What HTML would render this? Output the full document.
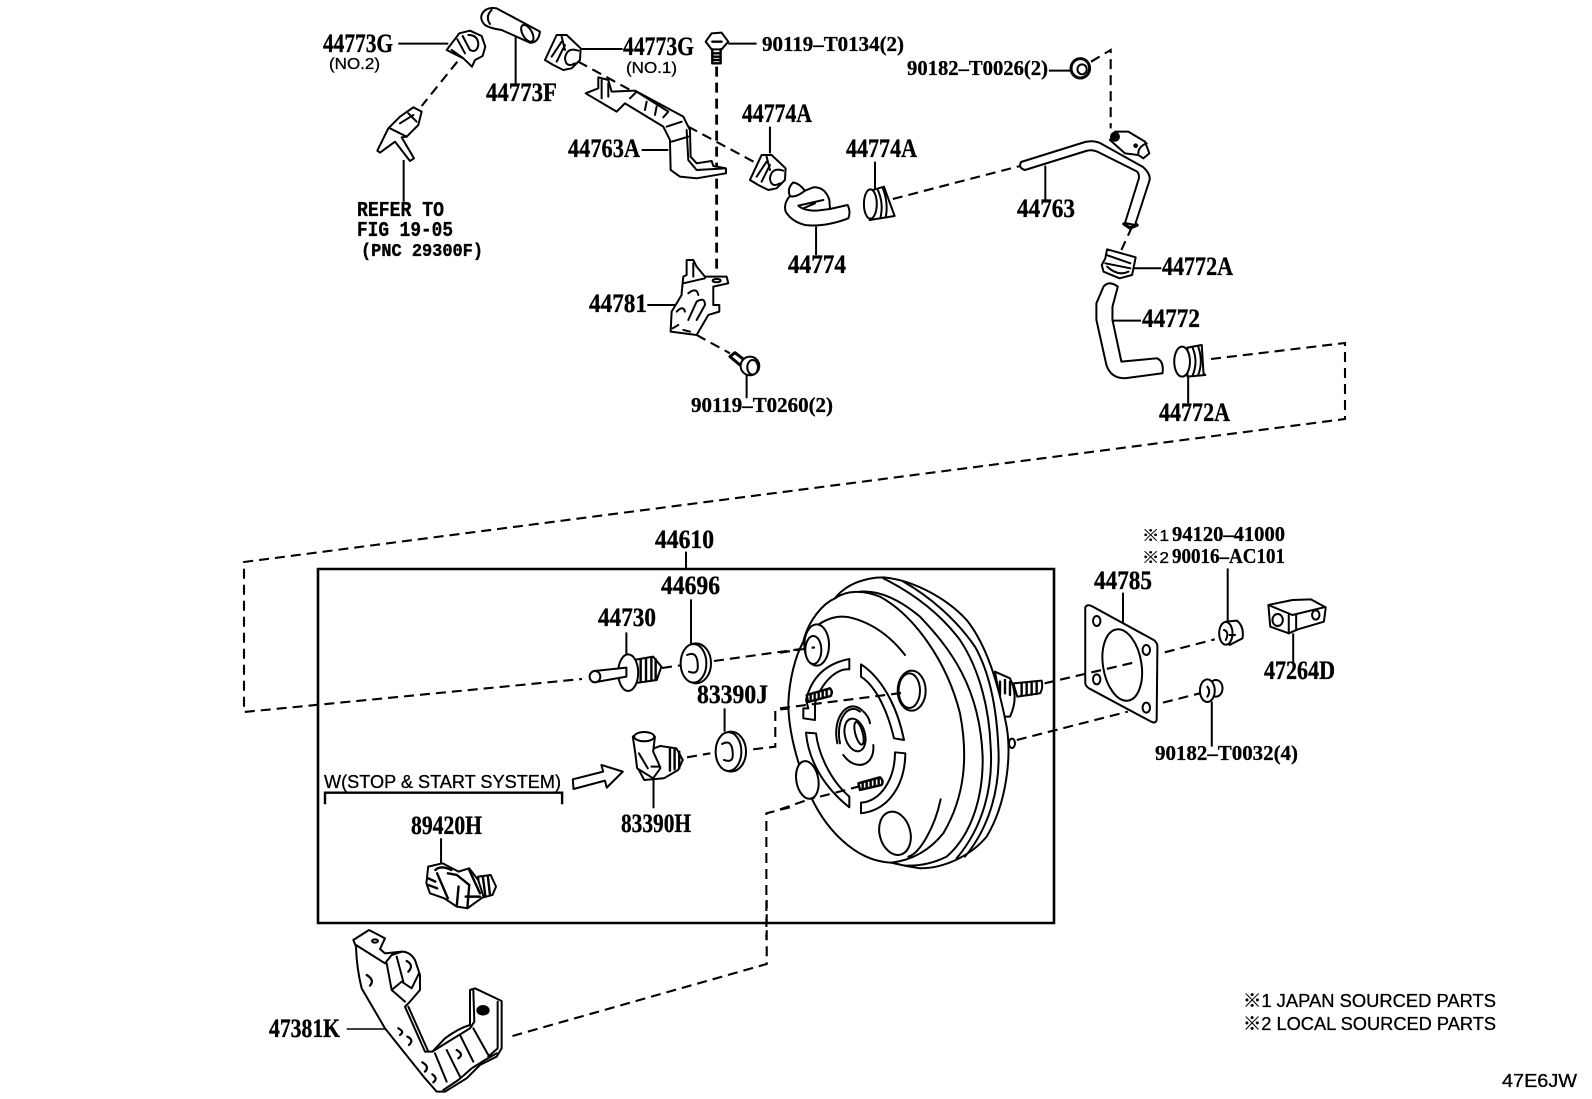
<!DOCTYPE html>
<html><head><meta charset="utf-8"><style>
html,body{margin:0;padding:0;background:#fff}
svg{display:block}
svg path,svg line,svg ellipse,svg rect,svg polyline,svg circle{vector-effect:non-scaling-stroke}
.p{fill:none;stroke:#000;stroke-width:2;stroke-linejoin:round;stroke-linecap:round}
.f path,.f ellipse{fill:#fff}
.d{fill:none;stroke:#000;stroke-width:2.1;stroke-dasharray:10 6}
.l{fill:none;stroke:#000;stroke-width:2}
.b{font-family:"Liberation Serif",serif;font-weight:bold;font-size:26px;fill:#000;stroke:#000;stroke-width:.35}
.m{font-family:"Liberation Serif",serif;font-weight:bold;font-size:21px;fill:#000;stroke:#000;stroke-width:.3}
.r{font-family:"Liberation Mono",monospace;font-weight:bold;font-size:21px;fill:#000;stroke:#000;stroke-width:.35}
.s{font-family:"Liberation Sans","Noto Sans CJK JP",sans-serif;font-size:18px;fill:#000;stroke:#000;stroke-width:.3}
</style></head><body>
<svg width="1592" height="1099" viewBox="0 0 1592 1099" xmlns="http://www.w3.org/2000/svg">
<rect width="1592" height="1099" fill="#fff"/>

<!-- long dashed connectors (real coords) -->
<path class="d" d="M1211,359 L1345,343 L1345,419 L244,562 L244,712 L582,679"/>
<path class="d" d="M662,668 L690,664 M714,661 L808,648"/>

<!-- box -->
<rect x="318" y="569" width="736" height="354" fill="none" stroke="#000" stroke-width="2.6"/>

<!-- ZOOM1 GROUP -->
<g transform="translate(300,0) scale(.3333)">
 <path class="l" d="M295,131H445 M647,110V255 M845,147H968 M1285,131H1370 M1025,450H1105 M1410,380V460 M1042,915H1125 M1340,1120V1195 M311,480V605"/>
 <path class="d" d="M472,185L365,318 M835,185L1000,275 M1165,380L1370,490 M1190,1005L1290,1060"/>
 <path class="d" style="stroke-width:2.8" d="M1250,200V820"/>
 <g class="p f">
  <path d="M440,150L478,100L510,92L545,108L556,140L548,168L525,180L516,200L490,175Z"/>
  <path d="M505,105Q535,105 535,135Q530,160 510,150" style="fill:none"/><path d="M455,150L490,175M472,118L495,160M488,108L510,150" style="fill:none"/>
  <path d="M545,45Q555,20 590,25L720,95Q715,130 690,128L605,90Q570,85 555,75Q540,60 545,45Z"/>
  <ellipse cx="682" cy="100" rx="28" ry="14" transform="rotate(60 682 100)"/><path d="M575,30Q555,50 570,72" style="fill:none"/>
  <path d="M735,180L770,105L800,105L842,145L840,180L815,205L790,210L760,195Z"/>
  <path d="M835,152Q800,140 795,175Q798,205 825,190" style="fill:none"/><path d="M755,170L785,125M770,185L795,135M785,110L795,150" style="fill:none"/>
  <path d="M1350,540L1385,465L1415,465L1457,505L1455,540L1430,565L1405,570L1375,555Z"/>
  <path d="M1450,512Q1415,500 1410,535Q1413,565 1440,550" style="fill:none"/><path d="M1370,530L1400,485M1385,545L1410,495M1400,470L1410,510" style="fill:none"/>
  <path d="M232,452L265,385L300,350L340,322L365,335L355,375L320,410L305,412L342,475L330,483L285,425L240,458Z"/>
  <path d="M280,390L320,410M300,370L340,345M325,340L350,365M270,385L300,400" style="fill:none"/>
  <path d="M857,280L895,265L895,232L925,240L935,275L1005,272L1150,350L1170,390L1172,470L1190,490L1235,483L1240,498L1278,505L1278,520L1190,535L1140,530L1112,510L1110,420L1090,380L975,310L950,335Z"/>
  <path d="M990,295L1010,275L1105,335L1090,352M1040,305L1035,330M1070,320L1065,345M1100,380L1145,365M1115,425L1165,410M1160,390L1165,480L1190,510L1275,505M905,240V295M925,250V290" style="fill:none"/>
  <path d="M1217,125L1235,100L1265,98L1285,125L1265,148L1235,148Z"/>
  <path d="M1237,148V190H1262V148M1237,160H1262M1237,170H1262M1237,180H1262M1237,125H1265" style="fill:none;stroke-width:2.4"/>
  <path d="M1145,880L1150,830L1160,825L1160,780L1180,780L1190,800L1215,830L1280,830L1285,850L1240,860L1240,915L1258,915L1258,935L1225,945L1190,1005L1112,995L1115,935L1145,885Z"/>
  <path d="M1165,880Q1190,860 1195,885M1130,935Q1150,915 1155,935M1165,960L1190,905Q1215,890 1215,915L1190,960M1118,985L1135,975M1150,990L1170,995M1180,790V830M1150,850L1215,835" style="fill:none"/>
  <ellipse cx="1250" cy="842" rx="12" ry="5"/>
  <path d="M1290,1070L1305,1058L1340,1085L1320,1095Z" style="stroke-width:3"/>
  <ellipse cx="1350" cy="1098" rx="28" ry="28"/><ellipse cx="1358" cy="1102" rx="16" ry="22"/>
 </g>
</g>

<!-- ZOOM2 GROUP -->
<g transform="translate(800,0) scale(.3571,.3333)">
 <path class="l" d="M45,680V765 M210,485V575 M687,497V600 M697,212H760 M930,805H1012 M875,962H955 M1087,1130V1210"/>
 <path class="d" d="M260,597L620,497 M930,680L900,750 M815,185L870,150V385"/>
 <g class="p f">
  <ellipse cx="785" cy="205" rx="26" ry="29" style="stroke-width:3"/><ellipse cx="790" cy="208" rx="13" ry="15"/>
  <path d="M855,775L860,748L940,772L930,825L895,835L850,815L845,795Z"/>
  <path d="M858,765L925,790M855,790L925,805M860,800Q890,830 920,815" style="fill:none"/>
  <path d="M850,860Q865,840 890,860L875,920L875,960L900,1085L1000,1075Q1020,1085 1015,1120L910,1135Q870,1135 858,1095L830,960L830,910Z"/>
  <path d="M1085,1043L1125,1035L1130,1120L1135,1125L1085,1130Z"/>
  <ellipse cx="1070" cy="1085" rx="22" ry="45"/>
  <path d="M1100,1045Q1115,1085 1100,1125M1115,1040Q1130,1085 1115,1125" style="fill:none"/>
  <path d="M205,570L235,560L265,648L195,660Z"/>
  <ellipse cx="197" cy="612" rx="18" ry="44"/>
  <path d="M218,570Q235,610 225,655M232,565Q248,610 240,652" style="fill:none"/>
 </g>
</g>

<!-- pipe 44763 + bracket (real coords, from 3x crop origin 1100,130) -->
<g class="p f">
 <g transform="translate(1100,130) scale(.3333)">
  <path d="M30,30L45,5L85,5L135,35L148,70L130,85L115,75L75,70Z"/>
  <ellipse cx="45" cy="20" rx="12" ry="12" style="fill:#000"/>
  <ellipse cx="107" cy="47" rx="4" ry="4" style="fill:#000"/>
  <path d="M140,40Q115,50 115,70" style="fill:none"/>
 </g>
 <path d="M1021,162L1085,142Q1093,140 1100,143L1143,167Q1152,175 1149,182L1135,225L1125,223L1139,178Q1139,172 1136,171L1098,152Q1092,149 1086,151L1025,170Q1018,168 1021,162Z"/>
 <path d="M1124,224L1130,228L1137,225" style="fill:none;stroke-width:3.4"/>
</g>

<!-- 44774 hose (crop origin 750,140) -->
<g transform="translate(750,140) scale(.3333)" class="p f">
 <path d="M130,127Q110,145 120,168Q100,190 107,215Q125,245 165,255Q225,262 295,235Q303,215 293,195L240,207L238,180Q225,140 190,142L165,152Q148,130 130,127Z"/>
 <path d="M120,168Q135,175 165,152M145,197Q160,212 200,212L240,207M145,197L220,180M160,205L195,190" style="fill:none"/>
</g>

<!-- ZOOM3 GROUP -->
<g transform="translate(230,520) scale(.3571,.3333)">
 <path class="l" d="M1277,95V145 M1291,238V372 M1110,337V405 M1385,565V635 M1186,775V865 M591,955V1030"/>
 <path class="d" d="M1280,712L1345,700 M1465,688L1527,680V570L1568,565 M1568,862L1502,880V1260"/>
 <path class="l" style="stroke-width:2.4" d="M266,853V818H930V853"/>
 <g class="p f">
  <path d="M960,778L1045,755L1040,735L1100,755L1055,803L1050,782L962,807Z"/>
  <!-- 44696 -->
  <ellipse cx="1305" cy="430" rx="42" ry="60"/><ellipse cx="1298" cy="430" rx="36" ry="58"/>
  <path d="M1280,405Q1310,390 1310,440Q1310,465 1285,455" style="fill:none"/>
  <!-- 44730 -->
  <path d="M1130,420L1185,410L1208,440L1195,480L1130,490Z"/>
  <path d="M1150,420V485M1165,415V485M1180,412V482M1192,418V478" style="fill:none;stroke-width:2.4"/>
  <ellipse cx="1115" cy="458" rx="28" ry="55"/>
  <path d="M1020,453L1110,443V470L1025,486Z"/><ellipse cx="1022" cy="470" rx="15" ry="17"/>
  <!-- 83390J -->
  <ellipse cx="1403" cy="695" rx="42" ry="60"/><ellipse cx="1396" cy="695" rx="36" ry="58"/>
  <path d="M1378,672Q1408,655 1408,705Q1408,730 1383,720" style="fill:none"/>
  <!-- 83390H -->
  <path d="M1205,678L1250,685L1268,720L1255,750L1215,775L1160,780L1140,740L1150,700Z"/>
  <path d="M1232,685V752M1245,688V748M1258,695V745" style="fill:none;stroke-width:2.4"/>
  <path d="M1128,650Q1150,630 1190,650L1185,695L1200,730L1205,745L1185,775L1140,745L1135,700Z"/>
  <ellipse cx="1160" cy="650" rx="28" ry="14"/>
  <path d="M1145,700L1170,745M1180,740H1205" style="fill:none"/>
  <!-- 89420H -->
  <path d="M695,1070L730,1065L745,1100L735,1125L700,1135Z"/>
  <path d="M708,1070L715,1128M722,1068L728,1125" style="fill:none;stroke-width:2.4"/>
  <path d="M550,1090L555,1040L595,1030L640,1055L670,1045L695,1080L710,1130L665,1165L635,1160L600,1135L560,1120Z"/>
  <path d="M580,1060L610,1135M610,1060L635,1065L670,1095L665,1160M640,1100L635,1158M575,1050Q590,1035 620,1050M670,1050L700,1120M660,1130H700M555,1075L575,1085M555,1095L580,1105" style="fill:none;stroke-width:2.4"/>
 </g>
</g>

<!-- BOOSTER (crop origin 780,570) -->
<g transform="translate(780,570) scale(.3333)" class="p f">
 <!-- rear hub and stud -->
 <path d="M645,305L690,325Q718,380 690,440L670,440Z"/>
 <path d="M700,340L785,332Q790,355 780,370L712,380Z"/>
 <path d="M660,335V375M675,330V370M690,335V375M725,340V378M740,338V376M755,336V374M770,334V372" style="fill:none;stroke-width:2.4"/>
 <ellipse cx="696" cy="520" rx="9" ry="14"/>
 <!-- outline -->
 <path d="M70,215C85,150 130,100 165,85C200,40 260,22 310,22C400,30 500,85 560,150C620,225 655,340 680,470C695,560 680,700 620,800C570,860 490,895 420,895C390,890 360,885 335,878C230,875 130,780 80,650C50,570 25,480 25,400C28,330 45,260 70,215Z"/>
 <path d="M165,85C200,60 250,60 300,80C400,135 500,270 540,430C565,560 555,680 490,790C450,840 400,870 335,878" style="fill:none"/>
 <path d="M240,65C300,60 360,90 420,140C510,235 600,350 608,560C610,670 580,790 500,860C460,880 420,888 380,887" style="fill:none"/>
 <path d="M310,25C400,70 480,130 540,210C600,300 628,420 632,530C640,650 610,770 530,865" style="fill:none"/>
 <path d="M370,35C450,80 530,150 585,230C630,310 650,420 655,530C662,650 630,770 555,860" style="fill:none"/>
 <path d="M80,195C120,150 170,130 220,145C290,165 340,210 375,255" style="fill:none"/>
 <path d="M482,688C465,770 420,850 385,860" style="fill:none"/>
 <!-- holes -->
 <ellipse cx="110" cy="225" rx="37" ry="62"/><ellipse cx="100" cy="240" rx="24" ry="42"/>
 <ellipse cx="395" cy="362" rx="42" ry="60"/><ellipse cx="388" cy="362" rx="32" ry="52"/>
 <ellipse cx="82" cy="630" rx="33" ry="57" transform="rotate(-10 82 630)"/>
 <ellipse cx="345" cy="790" rx="46" ry="66" transform="rotate(-15 345 790)"/>
 <!-- slots -->
 <path d="M78,390C95,320 140,280 208,267V298C170,295 125,335 105,400V450L70,445V415L85,415Z"/>
 <path d="M243,283C300,320 350,400 372,510L342,505C325,430 290,350 243,320Z"/>
 <path d="M78,488L108,490C115,550 150,630 208,680V712C130,650 85,570 78,488Z"/>
 <path d="M345,547L376,550C375,640 330,720 243,730V698C300,695 345,630 345,547Z"/>
 <!-- centre -->
 <path d="M172,520C155,440 205,385 245,420C260,432 268,445 270,460" style="fill:none"/>
 <path d="M280,525C285,590 225,605 190,555" style="fill:none"/>
 <path d="M180,520C165,450 205,395 240,425" style="fill:none"/>
 <ellipse cx="225" cy="495" rx="30" ry="50" transform="rotate(-15 225 495)"/>
 <ellipse cx="237" cy="490" rx="11" ry="35" transform="rotate(-15 237 490)"/>
 <!-- studs -->
 <path d="M80,375L150,355Q160,365 152,378L84,396Z" style="stroke-width:2.4"/>
 <path d="M92,372V392M104,368V388M116,365V385M128,362V382M140,358V378" style="fill:none;stroke-width:2.4"/>
 <path d="M235,640L300,622Q312,632 305,645L240,660Z" style="stroke-width:2.4"/>
 <path d="M248,636V657M260,633V654M272,630V650M284,626V647M296,623V644" style="fill:none;stroke-width:2.4"/>
</g>
<g transform="translate(780,570) scale(.3333)">
 <path class="d" d="M0,248L105,232 M0,415L380,367 M0,718L105,682 M120,680L235,650"/>
</g>

<!-- ZOOM4 GROUP: gasket etc -->
<g transform="translate(780,520) scale(.37,.3333)">
 <path class="l" d="M927,218V310 M1210,145V305 M1387,340V430 M1167,545V680"/>
 <g class="p f">
  <path d="M825,262Q830,252 842,258L1010,360Q1020,368 1020,380L1018,600Q1015,612 1003,605L835,505Q825,498 825,488Z"/>
  <ellipse cx="925" cy="435" rx="52" ry="108" transform="rotate(-8 925 435)"/>
  <ellipse cx="856" cy="303" rx="10" ry="15"/><ellipse cx="990" cy="390" rx="10" ry="15"/>
  <ellipse cx="856" cy="478" rx="10" ry="15"/><ellipse cx="990" cy="563" rx="10" ry="15"/>
  <path d="M1205,305L1235,302Q1255,320 1250,355L1215,375Z"/>
  <ellipse cx="1205" cy="340" rx="18" ry="34"/><path d="M1200,330Q1215,335 1205,360M1215,345H1230" style="fill:none"/>
  <path d="M1320,255L1385,240L1435,238L1475,262L1470,305L1400,328L1375,340L1325,320Z"/>
  <path d="M1320,255L1385,285L1470,262M1375,285V340M1395,285V330" style="fill:none"/>
  <ellipse cx="1345" cy="300" rx="14" ry="18"/><ellipse cx="1448" cy="285" rx="10" ry="14"/>
  <ellipse cx="1178" cy="505" rx="18" ry="25"/>
  <ellipse cx="1155" cy="512" rx="20" ry="34"/>
  <path d="M1155,500Q1165,515 1155,530" style="fill:none"/>
 </g>
 <path class="d" d="M715,490L955,428 M1040,397L1175,358 M640,660L940,575 M1035,548L1135,520"/>
</g>

<!-- dashed to bracket -->
<g transform="translate(250,900) scale(.3571,.3333)">
 <path class="d" d="M735,408L1447,192V0"/>
</g>

<!-- BRACKET 47381K (crop origin 345,925) -->
<g transform="translate(345,925) scale(.3333)">
 <path class="l" style="stroke-width:1.6" d="M5,312H120"/>
 <g class="p f">
  <path d="M25,45L72,15L120,40L105,72L120,85L170,80Q195,80 210,105L225,150V195L195,230L180,245L240,380H262L300,340Q340,310 375,300V195L390,190L470,228V370L455,395L405,420L365,460L300,500H275L240,460L120,310L50,190Q35,130 33,65Z"/>
  <path d="M33,60L120,115L140,90L170,80M125,115L140,195L180,230M140,195L170,170L200,190L222,145M155,95L175,170M190,245L250,380M262,380L310,350L375,310L388,290L385,195M270,385L305,470M305,375L345,455M345,330L385,410M385,310L430,390M458,230V370L430,395M295,495L340,465L380,430L420,405L455,385" style="fill:none"/>
  <ellipse cx="90" cy="48" rx="9" ry="5"/>
  <path d="M185,108Q208,120 190,140M65,150Q90,165 75,182M160,310Q180,320 165,330M187,335Q208,345 192,360M232,412Q255,425 240,440M262,448Q280,460 265,472M335,375Q358,388 340,400" style="fill:none;stroke-width:2.2"/>
  <ellipse cx="414" cy="256" rx="17" ry="13" style="fill:#000"/>
 </g>
</g>

<!-- TEXT -->
<g class="b">
<text x="323" y="52" textLength="70" lengthAdjust="spacingAndGlyphs">44773G</text>
<text x="486" y="101" textLength="71" lengthAdjust="spacingAndGlyphs">44773F</text>
<text x="623" y="55" textLength="71" lengthAdjust="spacingAndGlyphs">44773G</text>
<text x="742" y="122" textLength="70" lengthAdjust="spacingAndGlyphs">44774A</text>
<text x="568" y="157" textLength="72" lengthAdjust="spacingAndGlyphs">44763A</text>
<text x="846" y="157" textLength="71" lengthAdjust="spacingAndGlyphs">44774A</text>
<text x="1017" y="217" textLength="58" lengthAdjust="spacingAndGlyphs">44763</text>
<text x="788" y="273" textLength="58" lengthAdjust="spacingAndGlyphs">44774</text>
<text x="1162" y="275" textLength="71" lengthAdjust="spacingAndGlyphs">44772A</text>
<text x="589" y="312" textLength="58" lengthAdjust="spacingAndGlyphs">44781</text>
<text x="1142" y="327" textLength="58" lengthAdjust="spacingAndGlyphs">44772</text>
<text x="1159" y="421" textLength="71" lengthAdjust="spacingAndGlyphs">44772A</text>
<text x="655" y="548" textLength="59" lengthAdjust="spacingAndGlyphs">44610</text>
<text x="661" y="594" textLength="59" lengthAdjust="spacingAndGlyphs">44696</text>
<text x="598" y="626" textLength="58" lengthAdjust="spacingAndGlyphs">44730</text>
<text x="697" y="703" textLength="71" lengthAdjust="spacingAndGlyphs">83390J</text>
<text x="411" y="834" textLength="71" lengthAdjust="spacingAndGlyphs">89420H</text>
<text x="621" y="832" textLength="70" lengthAdjust="spacingAndGlyphs">83390H</text>
<text x="1094" y="589" textLength="58" lengthAdjust="spacingAndGlyphs">44785</text>
<text x="1264" y="679" textLength="71" lengthAdjust="spacingAndGlyphs">47264D</text>
<text x="269" y="1037" textLength="71" lengthAdjust="spacingAndGlyphs">47381K</text>
</g>
<g class="m">
<text x="762" y="51" textLength="142" lengthAdjust="spacingAndGlyphs">90119–T0134(2)</text>
<text x="907" y="75" textLength="141" lengthAdjust="spacingAndGlyphs">90182–T0026(2)</text>
<text x="691" y="412" textLength="142" lengthAdjust="spacingAndGlyphs">90119–T0260(2)</text>
<text x="1172" y="541" textLength="113" lengthAdjust="spacingAndGlyphs">94120–41000</text>
<text x="1172" y="563" textLength="113" lengthAdjust="spacingAndGlyphs">90016–AC101</text>
<text x="1155" y="760" textLength="143" lengthAdjust="spacingAndGlyphs">90182–T0032(4)</text>
</g>
<g class="s" style="font-size:16px">
<text x="329" y="69" textLength="51" lengthAdjust="spacingAndGlyphs">(NO.2)</text>
<text x="626" y="73" textLength="51" lengthAdjust="spacingAndGlyphs">(NO.1)</text>
<text x="1142" y="541" textLength="27" lengthAdjust="spacingAndGlyphs">※1</text>
<text x="1142" y="563" textLength="27" lengthAdjust="spacingAndGlyphs">※2</text>
</g>
<g class="r">
<text x="357" y="216" textLength="87" lengthAdjust="spacingAndGlyphs">REFER TO</text>
<text x="357" y="236" textLength="96" lengthAdjust="spacingAndGlyphs">FIG 19-05</text>
<text x="361" y="256" textLength="122" lengthAdjust="spacingAndGlyphs" style="font-size:18px">(PNC 29300F)</text>
</g>
<g class="s">
<text x="324" y="788" textLength="237" lengthAdjust="spacingAndGlyphs">W(STOP &amp; START SYSTEM)</text>
<text x="1243" y="1007" textLength="253" lengthAdjust="spacingAndGlyphs">※1 JAPAN SOURCED PARTS</text>
<text x="1243" y="1030" textLength="253" lengthAdjust="spacingAndGlyphs">※2 LOCAL SOURCED PARTS</text>
<text x="1502" y="1087" textLength="75" lengthAdjust="spacingAndGlyphs">47E6JW</text>
</g>
</svg>
</body></html>
